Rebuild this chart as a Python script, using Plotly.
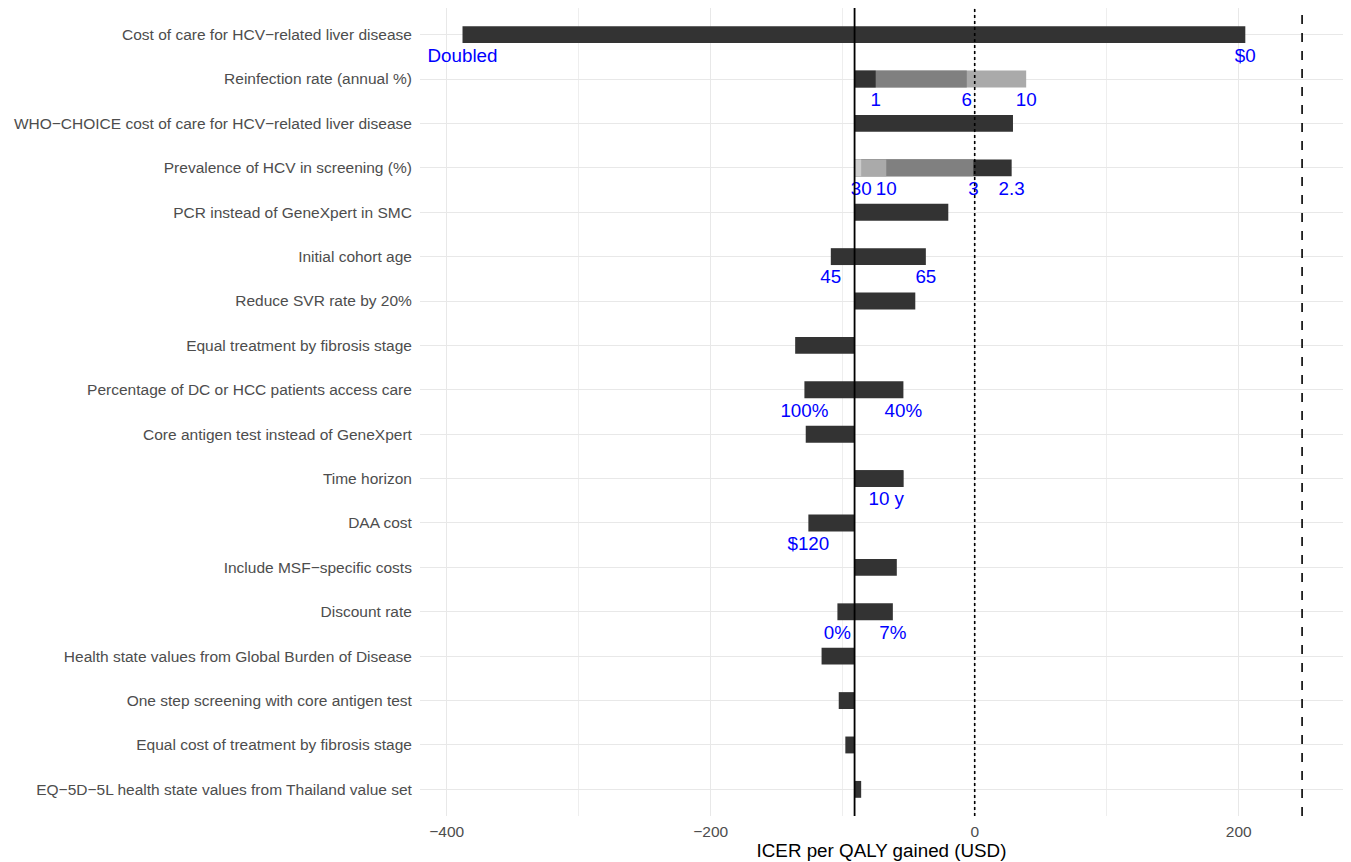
import plotly.graph_objects as go

# ---------------- data ----------------
parameters = [
    "Cost of care for HCV\u2212related liver disease",
    "Reinfection rate (annual %)",
    "WHO\u2212CHOICE cost of care for HCV\u2212related liver disease",
    "Prevalence of HCV in screening (%)",
    "PCR instead of GeneXpert in SMC",
    "Initial cohort age",
    "Reduce SVR rate by 20%",
    "Equal treatment by fibrosis stage",
    "Percentage of DC or HCC patients access care",
    "Core antigen test instead of GeneXpert",
    "Time horizon",
    "DAA cost",
    "Include MSF\u2212specific costs",
    "Discount rate",
    "Health state values from Global Burden of Disease",
    "One step screening with core antigen test",
    "Equal cost of treatment by fibrosis stage",
    "EQ\u22125D\u22125L health state values from Thailand value set",
]

base_icer = -91        # base-case ICER (USD per QALY)
threshold = 248        # dashed reference line

# scenarios: parameter index, value label, ICER, label position (ICER), level rank
scen_param = [0, 0, 1, 1, 1, 2, 3, 3, 3, 3, 4, 5, 5, 6, 7, 8, 8, 9, 10, 10, 11, 12, 13, 13, 14, 15, 16, 17]
scen_label = ["Doubled", "$0", "1", "6", "10", "", "2.3", "3", "10", "30", "", "45", "65", "", "",
              "100%", "40%", "", "", "10 y", "$120", "", "0%", "7%", "", "", "", ""]
scen_icer = [-388, 205, -75, -6, 39, 29, 28, -1, -67, -86, -20, -109, -37, -45, -136,
             -129, -54, -128, -54, -54, -126, -59, -104, -62, -116, -103, -98, -86]
scen_label_icer = [-388, 205, -75, -6, 39, 29, 28, -1, -67, -86, -20, -109, -37, -45, -136,
                   -129, -54, -128, -54, -67, -126, -59, -104, -62, -116, -103, -98, -86]
scen_level = [0, 0, 0, 1, 2, 0, 0, 1, 2, 3, 0, 0, 0, 0, 0,
              0, 0, 0, 0, 0, 0, 0, 0, 0, 0, 0, 0, 0]

x_ticks = [-400, -200, 0, 200]

# ---------------- styling ----------------
level_colors = ["#333333", "#808080", "#aaaaaa", "#cccccc"]
BAR_W = 0.38
FONT = "Liberation Sans, Arial, Helvetica, sans-serif"

fig = go.Figure()

# draw bars from base case to each scenario ICER, largest deviation first
order = sorted(range(len(scen_icer)), key=lambda i: -abs(scen_icer[i] - base_icer))
for i in order:
    fig.add_trace(go.Bar(
        orientation="h",
        y=[scen_param[i]],
        x=[scen_icer[i] - base_icer],
        base=[base_icer],
        width=BAR_W,
        marker=dict(color=level_colors[scen_level[i]], line=dict(width=0)),
        showlegend=False,
        hoverinfo="skip",
    ))

# value labels below bars
lab_idx = [i for i in range(len(scen_label)) if scen_label[i]]
fig.add_trace(go.Scatter(
    x=[scen_label_icer[i] for i in lab_idx],
    y=[scen_param[i] + 0.5 for i in lab_idx],
    text=[scen_label[i] for i in lab_idx],
    mode="text",
    textposition="middle center",
    textfont=dict(family=FONT, size=18.8, color="#0000ff"),
    showlegend=False,
    hoverinfo="skip",
    cliponaxis=False,
))

# reference lines
fig.add_shape(type="line", xref="x", yref="paper", x0=base_icer, x1=base_icer, y0=0, y1=1,
              line=dict(color="black", width=1.8), layer="above")
fig.add_shape(type="line", xref="x", yref="paper", x0=0, x1=0, y0=0, y1=1,
              line=dict(color="black", width=1.6, dash="dot"), layer="above")
fig.add_shape(type="line", xref="x", yref="paper", x0=threshold, x1=threshold, y0=0, y1=1,
              line=dict(color="black", width=1.6, dash="dash"), layer="above")

fig.update_layout(
    width=1343, height=854,
    barmode="overlay",
    plot_bgcolor="white", paper_bgcolor="white",
    margin=dict(l=412, r=8, t=0, b=46, autoexpand=False),
    font=dict(family=FONT, color="#4d4d4d", size=15.5),
    xaxis=dict(
        range=[-420.2, 279],
        tickvals=x_ticks,
        showgrid=True, gridcolor="#e8e8e8", gridwidth=1.4,
        minor=dict(tickvals=[-300, -100, 100], showgrid=True, gridcolor="#eeeeee", gridwidth=0.9),
        zeroline=False, showline=False,
        ticks="outside", ticklen=1, tickcolor="rgba(0,0,0,0)",
        tickfont=dict(size=15.5, color="#4d4d4d"),
        title=dict(text="ICER per QALY gained (USD)", standoff=4,
                   font=dict(size=18.8, color="black")),
    ),
    yaxis=dict(
        range=[17.6, -0.6],
        tickvals=list(range(len(parameters))),
        ticktext=parameters,
        showgrid=True, gridcolor="#e8e8e8", gridwidth=1.4,
        zeroline=False, showline=False,
        ticks="outside", ticklen=4, tickcolor="rgba(0,0,0,0)",
        tickfont=dict(size=15.5, color="#4d4d4d"),
    ),
)

fig.write_html("out.html")
